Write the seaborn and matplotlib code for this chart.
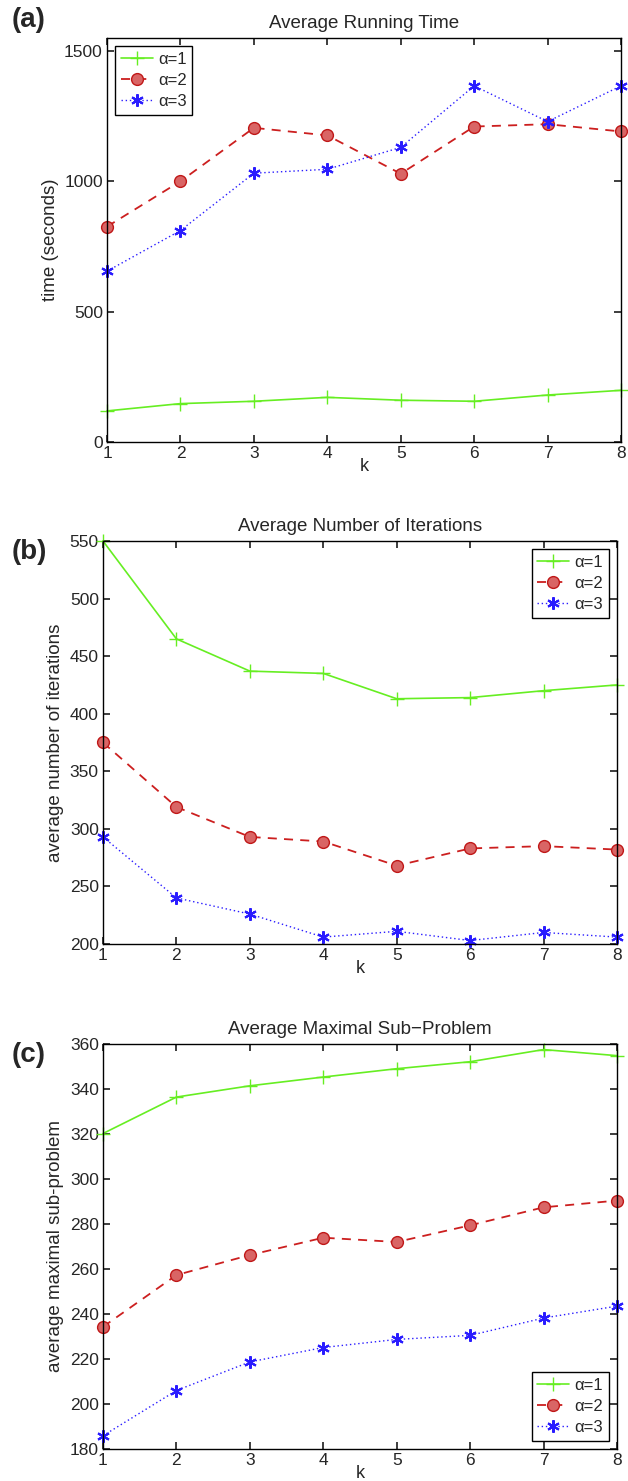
import numpy as np
import pandas as pd
import matplotlib
matplotlib.use("Agg")
import matplotlib.pyplot as plt
import seaborn as sns

k = [1, 2, 3, 4, 5, 6, 7, 8]
series_names = ["α=1", "α=2", "α=3"]

# (a) average running time (seconds)
time_a1 = [119, 147, 156, 171, 160, 156, 180, 198]
time_a2 = [826, 1000, 1205, 1176, 1029, 1210, 1219, 1191]
time_a3 = [655, 811, 1031, 1046, 1130, 1366, 1229, 1366]

# (b) average number of iterations
iter_a1 = [550, 465, 437, 435, 413, 414, 420, 425]
iter_a2 = [375, 319, 293, 289, 268, 283, 285, 282]
iter_a3 = [293, 240, 226, 206, 211, 203, 210, 206]

# (c) average maximal sub-problem
sub_a1 = [320.2, 336.4, 341.4, 345.3, 349.0, 352.1, 357.5, 354.8]
sub_a2 = [234.3, 257.3, 266.2, 273.9, 272.0, 279.4, 287.4, 290.4]
sub_a3 = [185.9, 206.0, 218.7, 225.1, 228.7, 230.5, 238.2, 243.5]

styles = [
    dict(color="#66ee22", linestyle="-", marker="+", markersize=10, markeredgewidth=1.0,
         markeredgecolor="#66ee22", linewidth=1.2),
    dict(color="#cc1f1f", linestyle=(0, (5, 4)), marker="o", markersize=8.5,
         markerfacecolor="#d96565", markeredgecolor="#c01818", markeredgewidth=1.0, linewidth=1.3),
    dict(color="#2a1cff", linestyle=(0, (1, 2)), marker=(6, 2, 0), markersize=9,
         markeredgecolor="#2a1cff", markeredgewidth=1.5, linewidth=1.0),
]

sns.set_theme(style="ticks")
plt.rcParams["font.family"] = ["Liberation Sans", "DejaVu Sans"]
plt.rcParams["axes.edgecolor"] = "black"
plt.rcParams["axes.linewidth"] = 1.0

fig = plt.figure(figsize=(6.28, 14.81), dpi=100)

panels = [
    dict(rect=[0.1704, 0.7016, 0.8185, 0.2728], data=[time_a1, time_a2, time_a3],
         ylim=(0, 1550), yticks=[0, 500, 1000, 1500], ylabel="time (seconds)",
         title="Average Running Time", tag="(a)", loc="upper left", tag_y=0.9865),
    dict(rect=[0.1640, 0.3626, 0.8185, 0.2721], data=[iter_a1, iter_a2, iter_a3],
         ylim=(200, 550), yticks=list(range(200, 551, 50)), ylabel="average number of iterations",
         title="Average Number of Iterations", tag="(b)", loc="upper right", tag_y=0.6275),
    dict(rect=[0.1640, 0.0216, 0.8185, 0.2735], data=[sub_a1, sub_a2, sub_a3],
         ylim=(180, 360), yticks=list(range(180, 361, 20)), ylabel="average maximal sub-problem",
         title="Average Maximal Sub\u2212Problem", tag="(c)", loc="lower right", tag_y=0.2875),
]

for p in panels:
    ax = fig.add_axes(p["rect"])
    for name, vals, st in zip(series_names, p["data"], styles):
        sns.lineplot(x=k, y=vals, ax=ax, label=name, clip_on=False, **st)
    ax.set_xlim(1, 8)
    ax.set_ylim(*p["ylim"])
    ax.set_xticks(k)
    ax.set_yticks(p["yticks"])
    ax.tick_params(direction="in", top=True, right=True, labelsize=12.5, length=5, pad=3)
    ax.set_xlabel("k", fontsize=13, labelpad=-2)
    ax.set_ylabel(p["ylabel"], fontsize=13.5, labelpad=4)
    ax.set_title(p["title"], fontsize=13.5, pad=7)
    leg = ax.legend(loc=p["loc"], fontsize=12, fancybox=False, framealpha=1,
                    edgecolor="black", handlelength=1.9, borderpad=0.35,
                    labelspacing=0.35, handletextpad=0.3, borderaxespad=0.5)
    leg.get_frame().set_linewidth(1.0)
    fig.text(0.018, p["tag_y"], p["tag"], fontsize=20, fontweight="bold", va="center", ha="left")

fig.savefig("out.png", dpi=100)
